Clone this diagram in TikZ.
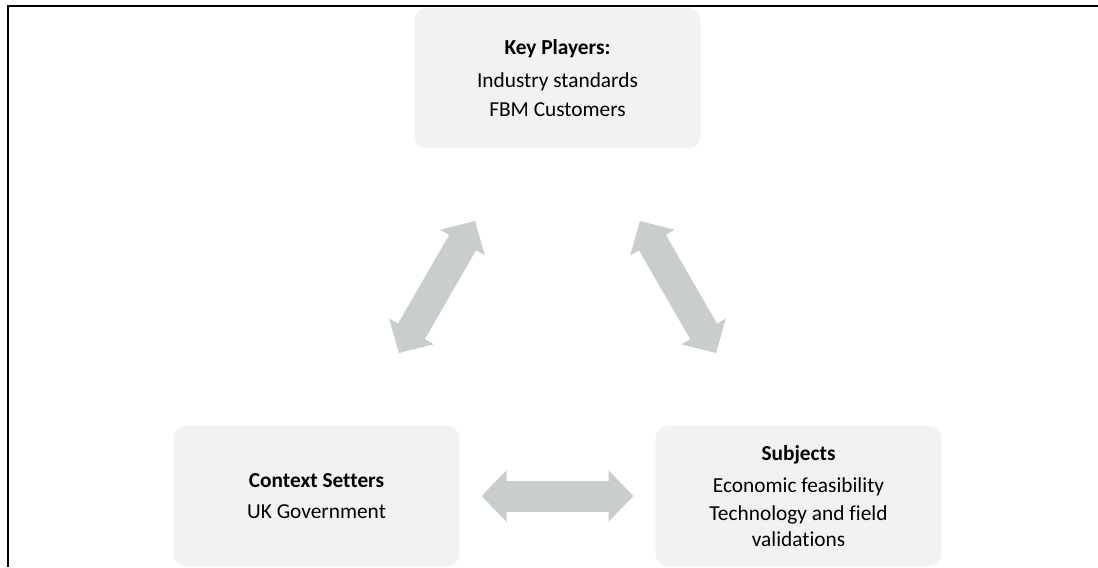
\documentclass[tikz,border=0pt]{standalone}
\usepackage{fontspec}
\setmainfont{Carlito}[Ligatures=NoCommon]
\usetikzlibrary{arrows.meta}
\definecolor{panelgray}{HTML}{F2F2F2}
\definecolor{linkgray}{HTML}{C8CFCB}
\begin{document}
\begin{tikzpicture}[x=0.75pt,y=-0.75pt,
  panel/.style={rectangle, rounded corners=9pt, fill=panelgray,
    minimum width=214.5pt, minimum height=105pt, inner sep=0pt,
    align=center, font=\fontsize{16}{19.5}\selectfont},
  link/.style={draw=linkgray, line width=23.25pt,
    {Triangle[length=18.75pt,width=37.5pt]}-{Triangle[length=18.75pt,width=37.5pt]},
    shorten <=123.75pt, shorten >=123.75pt},
  frame/.style={draw=black, line width=1.5pt, line join=miter}]
\useasboundingbox (0,0) rectangle (1098,567);

% frame: left and top rules
\coordinate (fb) at (7.5,567);
\coordinate (fc) at (7.5,5.8);
\coordinate (fr) at (1098,5.8);
\draw[frame] (fb) -- (fc) -- (fr);

% the three groups
\node[panel] (kp) at (557.5,78)
  {\textbf{Key Players:}\\[5.5pt]Industry standards\\[1.7pt]FBM Customers};
\node[panel] (cs) at (316.5,496)
  {\textbf{Context Setters}\\[3.5pt]UK Government};
\node[panel] (sub) at (798.5,496)
  {\textbf{Subjects}\\[4.8pt]Economic feasibility\\[1.7pt]Technology and field\\validations};

% two-way links
\draw[link] (cs.center) -- (kp.center);
\draw[link] (sub.center) -- (kp.center);
\draw[link] (cs.center) -- (sub.center);
\end{tikzpicture}
\end{document}
